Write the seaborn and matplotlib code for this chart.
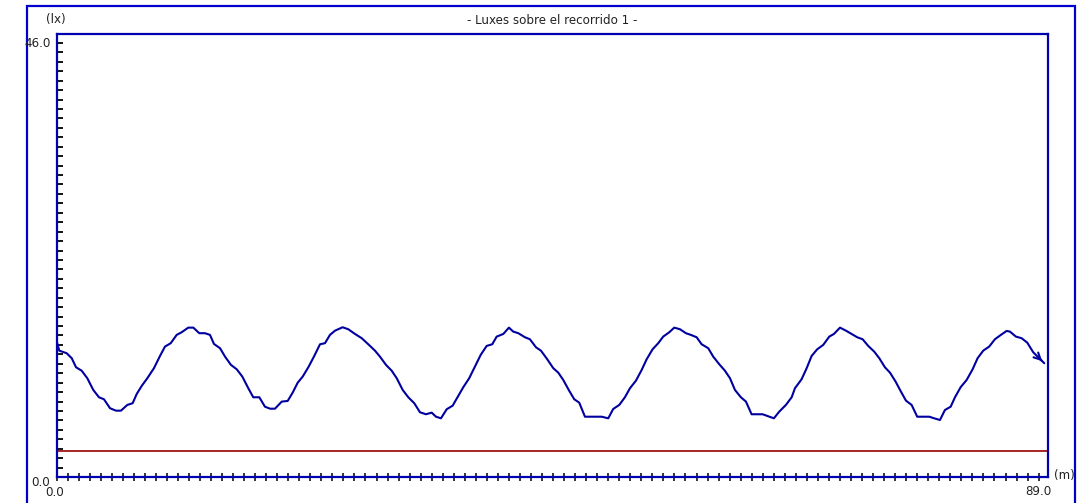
import numpy as np
import seaborn as sns
import matplotlib.pyplot as plt
from matplotlib.patches import Rectangle

# recorrido 1 : distancia (m) y luxes (lx)
dist = [0.0, 0.25, 0.92, 1.38, 1.77, 2.28, 2.79, 3.33, 3.85, 4.30, 4.85, 5.39, 5.84, 6.42, 6.90,
        7.27, 7.72, 8.23, 8.83, 9.38, 9.83, 10.35, 10.89, 11.34, 11.94, 12.40, 12.94, 13.46, 13.91,
        14.27, 14.82, 15.27, 15.81, 16.33, 16.84, 17.38, 17.83, 18.38, 18.89, 19.35, 19.80, 20.41,
        20.95, 21.40, 21.86, 22.31, 22.82, 23.33, 23.88, 24.33, 24.78, 25.24, 25.93, 26.44, 27.05,
        27.66, 28.25, 28.86, 29.31, 29.86, 30.37, 30.83, 31.37, 31.88, 32.42, 32.94, 33.48, 34.00,
        34.39, 34.84, 35.36, 35.90, 36.41, 36.86, 37.40, 37.92, 38.44, 38.98, 39.49, 39.89, 40.49,
        41.00, 41.39, 41.85, 42.45, 42.90, 43.45, 43.90, 44.47, 45.02, 45.47, 45.92, 46.47, 46.92,
        47.37, 47.89, 48.50, 49.40, 50.00, 50.45, 51.00, 51.51, 51.97, 52.51, 53.03, 53.48, 54.02,
        54.53, 54.98, 55.53, 55.98, 56.50, 57.04, 57.49, 58.01, 58.46, 59.06, 59.51, 60.06, 60.57,
        61.03, 61.48, 62.02, 62.48, 62.99, 63.99, 65.01, 65.49, 66.10, 66.62, 66.92, 67.52, 67.98,
        68.43, 68.94, 69.48, 70.03, 70.45, 71.00, 71.54, 72.06, 72.56, 73.05, 73.56, 74.10, 74.56,
        75.07, 75.53, 76.04, 76.49, 76.98, 77.49, 78.00, 79.09, 79.54, 80.06, 80.51, 81.03, 81.42,
        81.93, 82.48, 83.02, 83.47, 83.98, 84.52, 85.04, 85.58, 86.10, 86.40, 86.94, 87.46, 87.97,
        88.51, 89.05, 89.51]
lux = [14.46, 13.39, 13.12, 12.59, 11.63, 11.27, 10.47, 9.23, 8.45, 8.24, 7.29, 7.03, 7.03, 7.64, 7.82,
       8.80, 9.65, 10.47, 11.53, 12.83, 13.82, 14.18, 15.06, 15.34, 15.83, 15.83, 15.24, 15.24, 15.06,
       14.10, 13.65, 12.76, 11.88, 11.42, 10.64, 9.41, 8.45, 8.45, 7.45, 7.24, 7.24, 7.99,
       8.06, 8.94, 10.00, 10.64, 11.63, 12.76, 14.07, 14.18, 15.06, 15.51, 15.87, 15.66, 15.16,
       14.71, 14.07, 13.39, 12.76, 11.88, 11.27, 10.47, 9.23, 8.45, 7.82, 6.86, 6.65, 6.82,
       6.39, 6.22, 7.18, 7.56, 8.59, 9.51, 10.47, 11.70, 12.94, 13.89, 14.07, 14.88, 15.16,
       15.83, 15.41, 15.24, 14.81, 14.60, 13.75, 13.39, 12.48, 11.53, 11.06, 10.29, 9.12, 8.24,
       7.88, 6.39, 6.39, 6.39, 6.22, 7.21, 7.64, 8.45, 9.41, 10.21, 11.35, 12.48, 13.54,
       14.18, 14.88, 15.34, 15.83, 15.66, 15.24, 15.06, 14.81, 14.07, 13.65, 12.76, 11.95, 11.27,
       10.47, 9.23, 8.45, 7.99, 6.65, 6.65, 6.22, 6.92, 7.64, 8.45, 9.41, 10.36, 11.53,
       12.83, 13.54, 14.00, 14.88, 15.16, 15.83, 15.51, 15.16, 14.81, 14.60, 13.89, 13.29, 12.59,
       11.63, 11.06, 10.11, 9.12, 8.09, 7.64, 6.39, 6.39, 6.22, 6.04, 7.10, 7.45, 8.45,
       9.51, 10.29, 11.42, 12.59, 13.39, 13.82, 14.60, 15.06, 15.48, 15.41, 14.88, 14.71, 14.24,
       13.22, 12.59, 12.06]

lux_ref = 2.75          # linea roja
x_max, y_max = 89.0, 46.0

sns.set_theme(style="white")
plt.rcParams['font.family'] = ['DejaVu Sans']

fig = plt.figure(figsize=(10.84, 5.03), dpi=100)
W, H = 1084.0, 503.0
ax = fig.add_axes([56.5 / W, 26 / H, 991.5 / W, 443 / H])

sns.lineplot(x=dist, y=lux, ax=ax, color="#0000a0", linewidth=1.5, estimator=None)
ax.axhline(lux_ref, color="#990000", linewidth=1.2)
# flecha al final del recorrido
ax.annotate("", xy=(dist[-1], lux[-1]), xytext=(dist[-2], lux[-2]),
            arrowprops=dict(arrowstyle="->", color="#0000a0", lw=1.5, mutation_scale=12))

ax.set_xlim(0, 89.85)
ax.set_ylim(0, 46.95)
ax.set_xticks(np.arange(0, x_max + 1, 1))
ax.set_yticks(np.arange(0, y_max + 1, 1))
ax.set_xticklabels([])
ax.set_yticklabels([])
ax.tick_params(axis="x", bottom=True, direction="inout", length=6, width=1.1, color="black")
ax.tick_params(axis="y", left=True, direction="in", length=4.5, width=1.3, color="black")
ax.set_xlabel("")
ax.set_ylabel("")
for s in ax.spines.values():
    s.set_color("#0000b0")
    s.set_linewidth(1.6)

# marco exterior
fig.patches.append(Rectangle((27.3 / W, -0.05), (1075.3 - 27.3) / W, 1.05 - 6 / H,
                             transform=fig.transFigure, fill=False,
                             edgecolor="#0000cc", linewidth=1.6))

tc = "#222222"
fs = 8.6
fig.text(551.7 / W, 1 - 20 / H, "- Luxes sobre el recorrido 1 -", ha="center", va="center", fontsize=fs, color=tc)
fig.text(55.5 / W, 1 - 20 / H, "(lx)", ha="center", va="center", fontsize=fs, color=tc)
fig.text(51.0 / W, 1 - 43.5 / H, "%.1f" % y_max, ha="right", va="center", fontsize=fs, color=tc)
fig.text(49.5 / W, 1 - 482 / H, "0.0", ha="right", va="center", fontsize=fs, color=tc)
fig.text(54.7 / W, 1 - 492 / H, "0.0", ha="center", va="center", fontsize=fs, color=tc)
fig.text(1038.4 / W, 1 - 491.5 / H, "%.1f" % x_max, ha="center", va="center", fontsize=fs, color=tc)
fig.text(1064 / W, 1 - 475 / H, "(m)", ha="center", va="center", fontsize=fs, color=tc)

plt.savefig("out.png", dpi=100)
